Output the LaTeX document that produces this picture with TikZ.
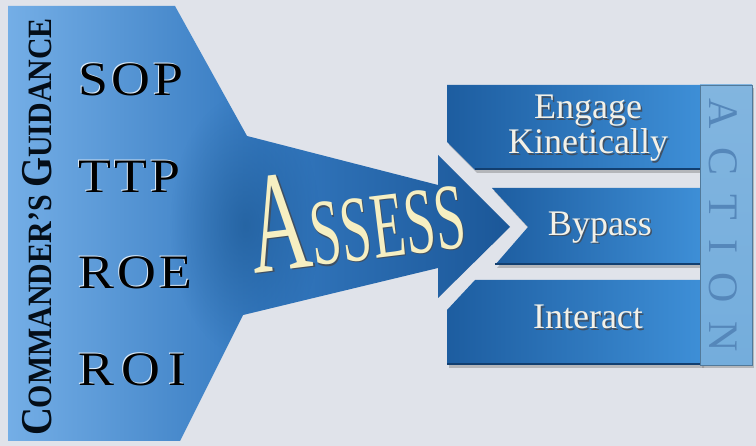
\documentclass[tikz,border=0pt]{standalone}
\usepackage{fontspec}
\setmainfont{Liberation Serif}
\usepackage{tikz}
\usetikzlibrary{shadows,fadings}

\definecolor{bgcol}{HTML}{E0E3EA}
\definecolor{guidelight}{HTML}{74AEE6}
\definecolor{guidemid}{HTML}{3479C0}
\definecolor{guidedark}{HTML}{1B5798}
\definecolor{guidecloud}{HTML}{1E5A96}
\definecolor{barleft}{HTML}{1D5DA0}
\definecolor{barright}{HTML}{3E8FD7}
\definecolor{bardark}{HTML}{123F70}
\definecolor{actionbox}{HTML}{74ADDC}
\definecolor{actiontext}{HTML}{5587BA}
\definecolor{barwhite}{HTML}{F3F1E8}
\definecolor{cream}{HTML}{F6EFC2}
\definecolor{inkshadow}{HTML}{10243C}

\tikzfading[name=cloud,inner color=transparent!15,outer color=transparent!100]

% text with a dark copy set a little down and right
\newcommand{\dropped}[1]{\rlap{\hspace{1.5pt}\raisebox{-1.5pt}{\textcolor{inkshadow!80}{#1}}}#1}
% text with a pale rim up and left
\newcommand{\rimmed}[1]{\rlap{\hspace{-1pt}\raisebox{1pt}{\textcolor{white!75!guidelight}{#1}}}#1}

\tikzset{
  guide/.style={anchor=base west,text=black,
    font=\fontsize{48}{48}\selectfont\addfontfeature{LetterSpace=6}},
  bar/.style={left color=barleft,right color=barright,
    drop shadow={shadow xshift=2pt,shadow yshift=-3pt,opacity=.45}},
  bartext/.style={text=barwhite,align=center,font=\fontsize{36}{30}\selectfont},
}

\begin{document}
\begin{tikzpicture}[x=1pt,y=-1pt]
        \fill[bgcol] (0,0) rectangle (756,446);
        \useasboundingbox (0,0) rectangle (756,446);

        % guidance funnel ending in the assess arrow
        \coordinate (f1) at (8,6);     \coordinate (f2) at (175,6);
        \coordinate (f3) at (247,136); \coordinate (f4) at (438,185);
        \coordinate (f5) at (438,155); \coordinate (tip) at (510,227);
        \coordinate (f6) at (438,298); \coordinate (f7) at (438,268);
        \coordinate (f8) at (243,315); \coordinate (f9) at (180,441);
        \coordinate (f10) at (8,441);
        \shade[left color=guidelight,right color=guidedark,middle color=guidemid]
          (f1) -- (f2) -- (f3) -- (f4) -- (f5) -- (tip) -- (f6) -- (f7) -- (f8) -- (f9) -- (f10) -- cycle;
        \begin{scope}
          \clip (f1) -- (f2) -- (f3) -- (f4) -- (f5) -- (tip) -- (f6) -- (f7) -- (f8) -- (f9) -- (f10) -- cycle;
          \fill[guidecloud,path fading=cloud,opacity=.8] (245,225) ellipse (75 and 130);
        \end{scope}

        \node[rotate=90,anchor=base,text=black!85!guidedark] (guidance) at (51,227)
          {\scalebox{.88}[1]{\bfseries\fontsize{44}{44}\selectfont C\fontsize{34}{34}\selectfont OMMANDER'S
           \fontsize{44}{44}\selectfont G\fontsize{34}{34}\selectfont UIDANCE}};

        \node[guide] (sop) at (75,96)  {\scalebox{1.12}[1]{\rimmed{SOP}}};
        \node[guide] (ttp) at (75,193) {\scalebox{1.12}[1]{\rimmed{TTP}}};
        \node[guide] (roe) at (75,289) {\scalebox{1.12}[1]{\rimmed{ROE}}};
        \node[guide] (roi) at (75,386) {\scalebox{1.12}[1]{\addfontfeature{LetterSpace=14}\rimmed{ROI}}};

        \node[rotate=7,text=cream] (assess) at (356,214)
          {\scalebox{.58}[1]{\fontsize{144}{144}\selectfont\dropped{A}\fontsize{94}{94}\selectfont\dropped{SSESS}}};

        % action bars
        \shade[bar] (447,85) -- (702,85) -- (702,170) -- (475,170) -- (447,142) -- cycle;
        \shade[bar] (492,188) -- (702,188) -- (702,265) -- (495,265) -- (528,227) -- cycle;
        \shade[bar] (475,280) -- (702,280) -- (702,365) -- (447,365) -- (447,310) -- cycle;
        \draw[bardark,line width=2.5pt] (475,169) -- (702,169);
        \draw[bardark,line width=2.5pt] (495,264) -- (702,264);
        \draw[bardark,line width=2.5pt] (447,364) -- (702,364);

        \shade[top color=actionbox!90!white,bottom color=actionbox,draw=actionbox!70!black,
          drop shadow={shadow xshift=2pt,shadow yshift=-3pt,opacity=.45}]
          (700,85) rectangle (752,365);
        \node[rotate=-90,text=actiontext,
          font=\fontsize{42}{42}\selectfont\addfontfeature{LetterSpace=45}] (action) at (723,225) {ACTION};

        \node[bartext] (engage) at (588,129) {\dropped{Engage}\\\dropped{Kinetically}};
        \node[bartext] (bypass) at (600,228) {\dropped{Bypass}};
        \node[bartext] (interact) at (588,318) {\dropped{Interact}};
\end{tikzpicture}
\end{document}
